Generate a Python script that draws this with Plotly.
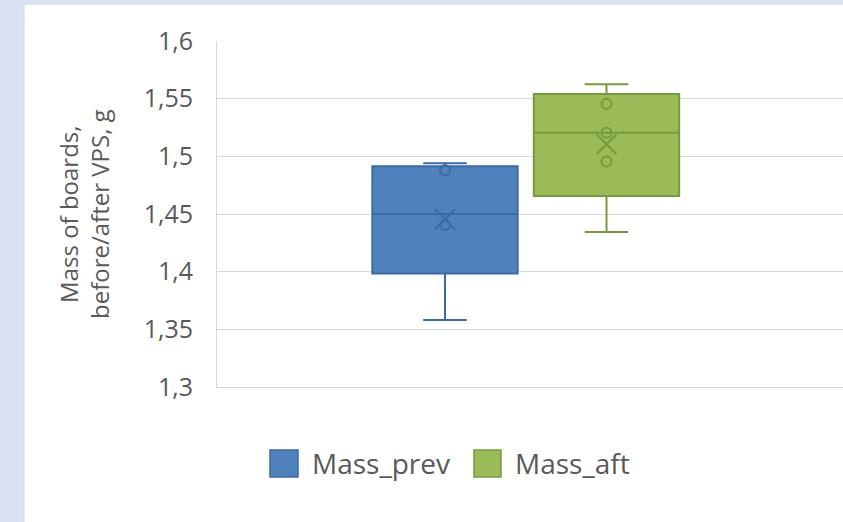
import plotly.graph_objects as go

# Box-plot statistics for the two series (mass of boards, g)
series_names = ["Mass_prev", "Mass_aft"]
q1 = [1.3985, 1.4655]
median = [1.4500, 1.5205]
q3 = [1.4915, 1.5540]
lower_whisker = [1.3580, 1.4345]
upper_whisker = [1.4940, 1.5625]
mean = [1.4455, 1.5105]
inner_points = [[1.4880, 1.4405], [1.5455, 1.5205, 1.4955]]

y_ticks = [1.3, 1.35, 1.4, 1.45, 1.5, 1.55, 1.6]
y_tick_labels = ["1,3", "1,35", "1,4", "1,45", "1,5", "1,55", "1,6"]

fill_colors = ["#4F81BD", "#9BBB59"]
edge_colors = ["#3B6AA5", "#789A3E"]

W, H = 843, 522
ML, MR, MT, MB = 217, 0, 41, 135
PW, PH = W - ML - MR, H - MT - MB


def px_x(px):
    return (px - ML) / PW


def px_y(py):
    return (H - MB - py) / PH


text_color = "#595959"
grid_color = "#D9D9D9"
font_family = "Open Sans"

fig = go.Figure()

for i, name in enumerate(series_names):
    fig.add_trace(go.Box(
        x=[name],
        q1=[q1[i]], median=[median[i]], q3=[q3[i]],
        lowerfence=[lower_whisker[i]], upperfence=[upper_whisker[i]],
        name=name,
        width=0.9,
        fillcolor=fill_colors[i],
        line=dict(color=edge_colors[i], width=2),
        whiskerwidth=0.3,
        boxpoints=False,
        showlegend=False,
    ))
    # inner data points
    fig.add_trace(go.Scatter(
        x=[name] * len(inner_points[i]), y=inner_points[i],
        mode="markers",
        marker=dict(symbol="circle-open", size=10,
                    color=edge_colors[i], line=dict(width=2, color=edge_colors[i])),
        showlegend=False, hoverinfo="skip",
    ))
    # mean marker
    fig.add_trace(go.Scatter(
        x=[name], y=[mean[i]],
        mode="markers",
        marker=dict(symbol="x-thin-open", size=20, color=edge_colors[i],
                    line=dict(width=2, color=edge_colors[i])),
        showlegend=False, hoverinfo="skip",
    ))

shapes = [
    # white chart card on a light-blue page
    dict(type="rect", xref="paper", yref="paper",
         x0=px_x(24), x1=px_x(W + 5), y0=px_y(H + 5), y1=px_y(4),
         fillcolor="white", line=dict(color="#CFD6E2", width=1), layer="below"),
]

annotations = [
    dict(text="Mass of boards,<br>before/after VPS, g",
         xref="paper", yref="paper", x=px_x(84), y=0.5,
         xanchor="center", yanchor="middle", textangle=-90, showarrow=False,
         font=dict(family=font_family, size=24, color=text_color)),
]

# legend drawn as swatches + labels
legend_swatch_px = [(270, 298), (474, 501)]
legend_text_px = [310, 513]
for i, name in enumerate(series_names):
    x0, x1 = legend_swatch_px[i]
    shapes.append(dict(type="rect", xref="paper", yref="paper",
                       x0=px_x(x0), x1=px_x(x1), y0=px_y(477), y1=px_y(450),
                       fillcolor=fill_colors[i],
                       line=dict(color=edge_colors[i], width=1.5)))
    annotations.append(dict(text=name, xref="paper", yref="paper",
                            x=px_x(legend_text_px[i]), y=px_y(463),
                            xanchor="left", yanchor="middle", showarrow=False,
                            font=dict(family=font_family, size=28, color=text_color)))

fig.update_layout(
    width=W, height=H,
    margin=dict(l=ML, r=MR, t=MT, b=MB, pad=0),
    paper_bgcolor="#DAE3F3",
    plot_bgcolor="white",
    boxmode="overlay",
    showlegend=False,
    shapes=shapes,
    annotations=annotations,
    xaxis=dict(
        type="category",
        range=[(ML - 445) / 161.5, (W - 445) / 161.5],
        showticklabels=False, showgrid=False, zeroline=False,
        showline=True, linecolor=grid_color, linewidth=1, ticks="",
    ),
    yaxis=dict(
        range=[1.3, 1.6],
        tickvals=y_ticks, ticktext=y_tick_labels,
        showgrid=True, gridcolor=grid_color, gridwidth=1,
        zeroline=False, showline=True, linecolor=grid_color, linewidth=1,
        ticks="", ticklabelstandoff=18,
        tickfont=dict(family=font_family, size=25, color=text_color),
    ),
)

fig.write_html("out.html")
